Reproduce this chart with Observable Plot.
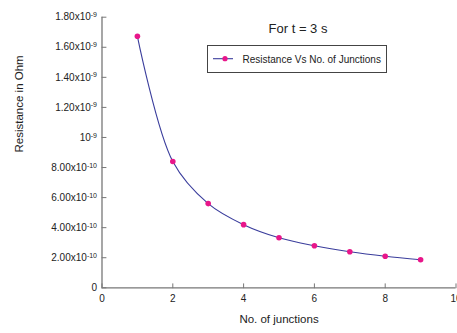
<!DOCTYPE html>
<html><head><meta charset="utf-8">
<script src="https://cdn.jsdelivr.net/npm/d3@7"></script>
<script src="https://cdn.jsdelivr.net/npm/@observablehq/plot@0.6"></script>
<style>body{margin:0;background:#fff;overflow:hidden;}</style>
</head><body><div id="chart"></div>
<script>
const junctions = [1, 2, 3, 4, 5, 6, 7, 8, 9];
const resistance = [1.673e-9, 0.84e-9, 0.56e-9, 0.42e-9, 0.333e-9, 0.28e-9, 0.24e-9, 0.21e-9, 0.187e-9];
const xTicks = [0, 2, 4, 6, 8, 10];
const yTicks = [0, 2e-10, 4e-10, 6e-10, 8e-10, 1e-9, 1.2e-9, 1.4e-9, 1.6e-9, 1.8e-9];
const yTickLabels = ["0", "2.00x10^-10", "4.00x10^-10", "6.00x10^-10", "8.00x10^-10", "10^-9", "1.20x10^-9", "1.40x10^-9", "1.60x10^-9", "1.80x10^-9"];
const titleText = "For t = 3 s";
const seriesName = "Resistance Vs No. of Junctions";
const xLabel = "No. of junctions";
const yLabel = "Resistance in Ohm";

const data = junctions.map((x, i) => ({x, r: resistance[i]}));
const tickShape = {draw(ctx, l) { ctx.moveTo(0, 0); ctx.lineTo(0, -l); }};
const axisColor = "#777";
const lineColor = "#3a3d9c";
const dotColor = "#e8168a";
const font = "'Liberation Sans', Arial, sans-serif";

const chart = Plot.plot({
  width: 457, height: 333,
  marginLeft: 101.5, marginRight: 1.5, marginTop: 16.7, marginBottom: 45.7,
  style: {fontFamily: font, fontSize: "10px", color: "#222", background: "#fff"},
  x: {domain: [0, 10]},
  y: {domain: [0, 1.8e-9]},
  marks: [
    Plot.axisX({ticks: xTicks, tickSize: 0, tickPadding: 7, tickFormat: d => String(d), label: null, fontSize: 10}),
    Plot.axisY({ticks: yTicks, tickSize: 0, tickPadding: 5, tickFormat: d => yTickLabels[yTicks.indexOf(d)], label: null, fontSize: 10}),
    Plot.vector(xTicks, {x: d => d, y: 0, length: 4, rotate: 0, anchor: "start", shape: tickShape, stroke: axisColor, strokeWidth: 1}),
    Plot.vector(yTicks, {x: 0, y: d => d, length: 4, rotate: 90, anchor: "start", shape: tickShape, stroke: axisColor, strokeWidth: 1}),
    Plot.ruleY([0], {stroke: axisColor, strokeWidth: 1.3}),
    Plot.ruleX([0], {stroke: axisColor, strokeWidth: 1.3}),
    Plot.text([xLabel], {text: d => d, frameAnchor: "bottom", dy: 35, fontSize: 11.5, fill: "#222"}),
    Plot.text([yLabel], {text: d => d, frameAnchor: "left", dx: -83, rotate: -90, fontSize: 11.5, fill: "#222"}),
    Plot.line(data, {x: "x", y: "r", curve: "catmull-rom", stroke: lineColor, strokeWidth: 1.1}),
    Plot.dot(data, {x: "x", y: "r", r: 2.8, fill: dotColor, stroke: "none"})
  ]
});

// superscript exponents in y tick labels
d3.select(chart).selectAll('g[aria-label="y-axis tick label"] text').each(function() {
  const t = this.textContent;
  if (t.includes("^")) {
    const [base, exp] = t.split("^");
    const sel = d3.select(this);
    sel.text(base);
    sel.append("tspan").attr("dy", "-0.45em").attr("font-size", "7px").text(exp);
  }
});

const svg = d3.select(chart);
// title
svg.append("text").attr("x", 298).attr("y", 33).attr("text-anchor", "middle")
  .attr("font-family", font).attr("font-size", 13).attr("fill", "#222").text(titleText);
// legend
const lg = svg.append("g");
lg.append("rect").attr("x", 207.5).attr("y", 45.5).attr("width", 179).attr("height", 27)
  .attr("fill", "#fff").attr("stroke", "#444").attr("stroke-width", 1);
lg.append("line").attr("x1", 213).attr("x2", 233).attr("y1", 58.7).attr("y2", 58.7)
  .attr("stroke", lineColor).attr("stroke-width", 1.1);
lg.append("circle").attr("cx", 225).attr("cy", 58.7).attr("r", 2.6).attr("fill", dotColor);
lg.append("text").attr("x", 242.5).attr("y", 63).attr("text-anchor", "start")
  .attr("font-family", font).attr("font-size", 10)
  .attr("fill", "#222").text(seriesName);

document.getElementById("chart").appendChild(chart);
</script>
</body></html>
